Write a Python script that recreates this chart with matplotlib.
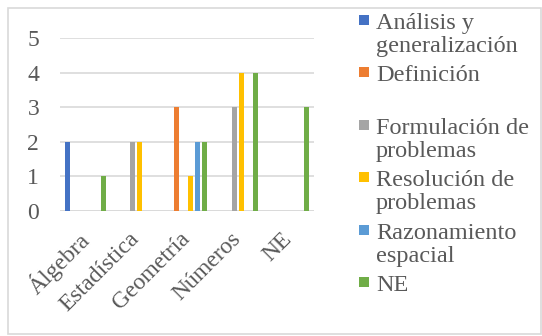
import matplotlib
matplotlib.use("Agg")
import matplotlib.pyplot as plt
from matplotlib.patches import Rectangle
import numpy as np

categories = ["Álgebra", "Estadística", "Geometría", "Números", "NE"]
series_names = ["Análisis y\ngeneralización", "Definición", "Formulación de\nproblemas",
                "Resolución de\nproblemas", "Razonamiento\nespacial", "NE"]
analisis = [2, 0, 0, 0, 0]
definicion = [0, 0, 3, 0, 0]
formulacion = [0, 2, 0, 3, 0]
resolucion = [0, 2, 1, 4, 0]
razonamiento = [0, 0, 2, 0, 0]
ne = [1, 0, 2, 4, 3]
series_values = [analisis, definicion, formulacion, resolucion, razonamiento, ne]
colors = ["#4472C4", "#ED7D31", "#A5A5A5", "#FFC000", "#5B9BD5", "#70AD47"]
yticks = [0, 1, 2, 3, 4, 5]

W, H = 542, 336
fig = plt.figure(figsize=(W / 100, H / 100), dpi=100)
plt.rcParams['font.family'] = ['Liberation Serif', 'DejaVu Serif']
txt = "#595959"
grid = "#D9D9D9"

# outer border
fig.patches.append(Rectangle((8 / W, 2 / H), (W - 9) / W, (H - 10) / H,
                             transform=fig.transFigure, fill=False,
                             edgecolor=grid, linewidth=1.2))

ax = fig.add_axes([60 / W, (H - 211) / H, 254 / W, 173 / H])
x = np.arange(len(categories))
pitch = 0.14
bw = 0.10
n = len(series_values)
for i, (vals, c) in enumerate(zip(series_values, colors)):
    off = (i - (n - 1) / 2) * pitch
    ax.bar(x + off, vals, width=bw, color=c, zorder=3)

ax.set_xlim(-0.5, len(categories) - 0.5)
ax.set_ylim(0, 5)
ax.set_yticks(yticks)
ax.set_yticklabels([str(v) for v in yticks], fontsize=17, color=txt)
ax.tick_params(axis='y', length=0, pad=15)
ax.tick_params(axis='x', length=0)
ax.set_xticks(x)
ax.set_xticklabels([])
for xi, lab in zip(x, categories):
    ax.annotate(lab, xy=(xi, 0), xycoords=('data', 'axes fraction'),
                xytext=(0, -18), textcoords='offset points',
                rotation=45, rotation_mode='anchor', ha='right', va='center',
                fontsize=17, color=txt)
ax.grid(axis='y', color=grid, linewidth=1.2, zorder=0)
for s in ax.spines.values():
    s.set_visible(False)
ax.axhline(0, color=grid, linewidth=1.2, zorder=2)

# legend
slot = 52.4
y0 = 20
for i, (name, c) in enumerate(zip(series_names, colors)):
    yc = y0 + i * slot
    fig.patches.append(Rectangle((359 / W, (H - yc - 5) / H), 10 / W, 10 / H,
                                 transform=fig.transFigure, facecolor=c,
                                 edgecolor='none'))
    fig.text(376 / W, (H - yc + 7) / H, name, fontsize=17.5, color=txt,
             va='top', ha='left', linespacing=1.13)

fig.savefig("out.png", dpi=100)
